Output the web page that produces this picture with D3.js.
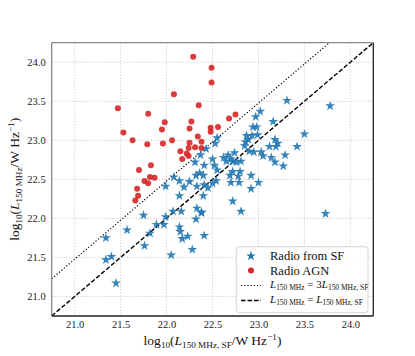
<!DOCTYPE html>
<html><head><meta charset="utf-8">
<script src="https://cdn.jsdelivr.net/npm/d3@7"></script>
<style>body{margin:0;background:#fff;} svg{display:block;}</style>
</head><body>
<svg id="chart" width="415" height="356"></svg>
<script>
// ---- data ----
const sfX = [23.31,23.78,23.02,22.97,23.16,22.94,22.98,23.50,22.55,22.87,22.93,22.99,22.89,22.86,23.18,22.53,22.43,22.85,23.12,23.21,23.19,23.42,22.90,22.95,23.03,23.05,22.37,22.62,22.67,22.70,22.74,22.72,22.76,22.81,23.14,23.18,23.29,22.41,22.52,22.55,22.50,23.27,22.36,22.40,22.69,22.78,22.80,22.92,22.32,22.31,22.72,23.00,22.92,22.54,22.70,22.79,22.45,22.40,22.72,22.81,22.38,23.73,22.41,22.08,21.99,22.14,22.19,22.25,22.33,22.41,22.14,22.07,22.16,22.33,22.38,22.32,22.14,22.15,22.17,22.23,22.28,22.05,21.75,21.99,21.89,21.97,21.82,21.57,21.34,21.76,21.40,21.34,21.45,22.50,22.65];
const sfY = [23.51,23.44,23.37,23.30,23.24,23.17,23.17,23.08,23.03,23.06,23.06,23.07,23.01,22.98,23.01,22.96,22.89,22.93,22.92,22.96,22.92,22.92,22.86,22.85,22.85,22.80,22.81,22.78,22.81,22.76,22.84,22.73,22.72,22.73,22.78,22.72,22.81,22.68,22.68,22.62,22.76,22.67,22.58,22.55,22.55,22.54,22.60,22.55,22.55,22.72,22.60,22.46,22.38,22.48,22.46,22.46,22.39,22.29,22.22,22.09,22.07,22.06,21.78,22.53,22.41,22.48,22.40,22.47,22.41,22.43,22.29,22.09,22.09,22.13,22.08,21.99,21.89,21.83,21.74,21.77,21.60,21.53,22.04,22.02,21.92,21.92,21.81,21.85,21.75,21.65,21.51,21.47,21.17,22.45,22.73];
const agnX = [22.29,22.49,22.49,22.08,21.47,22.35,21.80,22.75,22.68,22.27,21.98,21.95,22.25,22.48,22.56,22.48,21.53,21.63,21.79,21.96,22.06,22.34,22.25,22.38,22.31,22.24,22.38,22.15,22.22,22.24,22.17,21.83,21.70,21.82,21.87,21.76,21.80,21.68,21.69,21.66];
const agnY = [24.07,23.93,23.74,23.59,23.41,23.45,23.34,23.33,23.28,23.24,23.23,23.14,23.15,23.16,23.17,23.11,23.10,23.00,22.95,22.96,23.00,23.05,22.97,22.98,22.91,22.90,22.90,22.86,22.83,22.80,22.76,22.68,22.62,22.53,22.52,22.48,22.45,22.38,22.29,22.23];
const tickValues = [21.0,21.5,22.0,22.5,23.0,23.5,24.0];
const domain = [20.75,24.25];
const ratioFactor = 3;
const legendLabels = ["Radio from SF","Radio AGN"];

// ---- layout ----
const svg = d3.select("#chart");
const L = 51.7, R = 373.3, T = 42.7, B = 316;
const x = d3.scaleLinear().domain(domain).range([L,R]);
const y = d3.scaleLinear().domain(domain).range([B,T]);
const serif = "'Liberation Serif', 'Times New Roman', serif";
const blue = "#1f77b4", red = "#d62728";

// grid
const g = svg.append("g");
g.selectAll(".gx").data(tickValues).join("line")
  .attr("x1",d=>x(d)).attr("x2",d=>x(d)).attr("y1",T).attr("y2",B)
  .attr("stroke","#c8c8c8").attr("stroke-width",0.8).attr("stroke-dasharray","1.3,1.6");
g.selectAll(".gy").data(tickValues).join("line")
  .attr("y1",d=>y(d)).attr("y2",d=>y(d)).attr("x1",L).attr("x2",R)
  .attr("stroke","#c8c8c8").attr("stroke-width",0.8).attr("stroke-dasharray","1.3,1.6");

// axes (labels only)
const xAxis = d3.axisBottom(x).tickValues(tickValues).tickFormat(d3.format(".1f")).tickSize(0).tickPadding(5);
const yAxis = d3.axisLeft(y).tickValues(tickValues).tickFormat(d3.format(".1f")).tickSize(0).tickPadding(6);
const gx = svg.append("g").attr("transform",`translate(0,${B})`).call(xAxis);
const gy = svg.append("g").attr("transform",`translate(${L},0)`).call(yAxis);
[gx,gy].forEach(a=>{a.select(".domain").remove(); a.selectAll("text").attr("font-family",serif).attr("font-size",10.5).attr("fill","#222");});

// clip
svg.append("clipPath").attr("id","clip").append("rect").attr("x",L).attr("y",T).attr("width",R-L).attr("height",B-T);
const plot = svg.append("g").attr("clip-path","url(#clip)");

// reference lines
const off = Math.log10(ratioFactor);
plot.append("line").attr("x1",x(domain[0])).attr("y1",y(domain[0]+off)).attr("x2",x(domain[1]-off)).attr("y2",y(domain[1]))
  .attr("stroke","#000").attr("stroke-width",1.2).attr("stroke-dasharray","1.2,2");
plot.append("line").attr("x1",x(domain[0])).attr("y1",y(domain[0])).attr("x2",x(domain[1])).attr("y2",y(domain[1]))
  .attr("stroke","#000").attr("stroke-width",1.4).attr("stroke-dasharray","4.5,2");

// points
const star = d3.symbol().type(d3.symbolStar).size(30);
plot.selectAll(".sf").data(sfX.map((v,i)=>[v,sfY[i]])).join("path")
  .attr("d",star).attr("transform",d=>`translate(${x(d[0])},${y(d[1])})`)
  .attr("fill",blue).attr("fill-opacity",0.9);
plot.selectAll(".agn").data(agnX.map((v,i)=>[v,agnY[i]])).join("circle")
  .attr("cx",d=>x(d[0])).attr("cy",d=>y(d[1])).attr("r",3)
  .attr("fill",red).attr("fill-opacity",0.9);

// spines
svg.append("line").attr("x1",L).attr("x2",R).attr("y1",T).attr("y2",T).attr("stroke","#888").attr("stroke-width",1.3);
svg.append("line").attr("x1",L).attr("x2",L).attr("y1",T).attr("y2",B).attr("stroke","#888").attr("stroke-width",1.3);
svg.append("line").attr("x1",R).attr("x2",R).attr("y1",T).attr("y2",B).attr("stroke","#222").attr("stroke-width",1.3);
svg.append("line").attr("x1",L).attr("x2",R).attr("y1",B).attr("y2",B).attr("stroke","#222").attr("stroke-width",1.3);

// math text helper
function mathText(sel, parts, size){
  const t = sel.append("text").attr("font-family",serif).attr("font-size",size).attr("fill","#111");
  let shift = 0;
  parts.forEach(p=>{
    const target = p.sub ? 0.25*size : p.sup ? -0.4*size : 0;
    const ts = t.append("tspan").text(p.t).attr("dy",target-shift);
    shift = target;
    if(p.sub||p.sup) ts.attr("font-size",size*0.68);
    if(p.it) ts.attr("font-style","italic");
  });
  return t;
}
const xTitle = [{t:"log"},{t:"10",sub:1},{t:"("},{t:"L",it:1},{t:"150 MHz, SF",sub:1},{t:"/W Hz"},{t:"−1",sup:1},{t:")"}];
const yTitle = [{t:"log"},{t:"10",sub:1},{t:"("},{t:"L",it:1},{t:"150 MHz",sub:1},{t:"/W Hz"},{t:"−1",sup:1},{t:")"}];
mathText(svg.append("g").attr("transform",`translate(${(L+R)/2},345)`), xTitle, 13.5).attr("text-anchor","middle");
mathText(svg.append("g").attr("transform",`translate(19,${(T+B)/2}) rotate(-90)`), yTitle, 13.5).attr("text-anchor","middle");

// legend
const lg = svg.append("g");
lg.append("rect").attr("x",236.3).attr("y",246.7).attr("width",131.7).attr("height",66).attr("rx",3)
  .attr("fill","#fff").attr("fill-opacity",0.85).attr("stroke","#d0d0d0").attr("stroke-width",0.9);
const rows = [256,270.5,285.5,300.5];
lg.append("path").attr("d",star).attr("transform",`translate(251,${rows[0]})`).attr("fill",blue);
lg.append("circle").attr("cx",251).attr("cy",rows[1]).attr("r",3).attr("fill",red);
lg.append("line").attr("x1",241).attr("x2",261).attr("y1",rows[2]).attr("y2",rows[2]).attr("stroke","#000").attr("stroke-width",1.2).attr("stroke-dasharray","1.2,2");
lg.append("line").attr("x1",241).attr("x2",261).attr("y1",rows[3]).attr("y2",rows[3]).attr("stroke","#000").attr("stroke-width",1.4).attr("stroke-dasharray","4.5,2");
legendLabels.forEach((s,i)=>{
  lg.append("text").attr("x",270).attr("y",rows[i]+4).attr("font-family",serif).attr("font-size",12.5).attr("fill","#111").text(s);
});
const l3 = [{t:"L",it:1},{t:"150 MHz",sub:1},{t:" = 3"},{t:"L",it:1},{t:"150 MHz, SF",sub:1}];
const l4 = [{t:"L",it:1},{t:"150 MHz",sub:1},{t:" = "},{t:"L",it:1},{t:"150 MHz, SF",sub:1}];
mathText(lg.append("g").attr("transform",`translate(270,${rows[2]+2})`), l3, 11);
mathText(lg.append("g").attr("transform",`translate(270,${rows[3]+2})`), l4, 11);
</script>
</body></html>
